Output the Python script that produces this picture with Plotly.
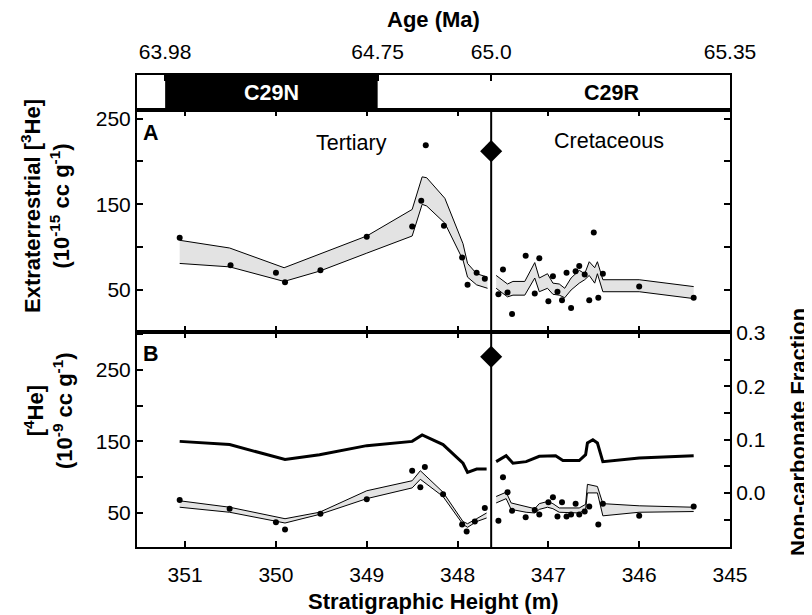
import plotly.graph_objects as go

# ---------------- data ----------------
height_ticks = [351, 350, 349, 348, 347, 346, 345]
age_labels = ["63.98", "64.75", "65.0", "65.35"]
age_tick_height = [351.22, 348.88, 347.63, 345.0]
chron_names = ["C29N", "C29R"]
chron_label_height = [350.05, 346.31]
c29n_start, c29n_end = 351.22, 348.88
kt_height = 347.63
kt_he3 = 212
kt_he4 = 268

# Panel A: extraterrestrial 3He (10^-15 cc/g)
hA_x = [351.06, 350.50, 350.00, 349.90, 349.51, 349.00, 348.50, 348.40, 348.35, 348.15,
        347.95, 347.89, 347.79, 347.70, 347.55, 347.50, 347.45, 347.40, 347.25, 347.15,
        347.10, 347.00, 346.95, 346.90, 346.85, 346.80, 346.75, 346.70, 346.66, 346.60,
        346.55, 346.50, 346.45, 346.40, 346.00, 345.40]
hA_y = [111, 79, 70, 59, 73, 112, 124, 154, 219, 125,
        88, 56, 70, 63, 45, 74, 47, 22, 90, 46,
        87, 37, 66, 48, 38, 70, 29, 72, 78, 68,
        38, 117, 41, 69, 54, 41]

bandA_left_x = [351.06, 350.51, 349.91, 349.52, 349.00, 348.50, 348.39, 348.34, 348.14, 347.94, 347.89, 347.79, 347.67]
bandA_left_hi = [108, 99, 76, 92, 113, 144, 182, 181, 157, 104, 81, 69, 65]
bandA_left_lo = [81, 77, 60, 72, 93, 113, 150, 148, 128, 85, 65, 56, 52]

bandA_right_x = [347.575, 347.45, 347.39, 347.26, 347.15, 347.10, 347.01, 346.95, 346.88, 346.82,
                 346.75, 346.66, 346.60, 346.55, 346.49, 346.46, 346.40, 346.00, 345.40]
bandA_right_hi = [67, 57, 60, 60, 82, 64, 69, 58, 57, 52, 64, 73, 69, 83, 76, 83, 62, 62, 54]
bandA_right_lo = [52, 42, 44, 44, 64, 48, 52, 45, 44, 41, 50, 58, 62, 67, 58, 69, 48, 48, 40]

# Panel B: 4He (10^-9 cc/g)
hB_x = [351.06, 350.51, 350.00, 349.90, 349.51, 349.00, 348.50, 348.41, 348.36, 348.16,
        347.95, 347.90, 347.81, 347.70, 347.55, 347.50, 347.45, 347.40, 347.25, 347.15,
        347.10, 347.00, 346.95, 346.90, 346.85, 346.80, 346.75, 346.70, 346.66, 346.60,
        346.55, 346.45, 346.40, 346.00, 345.40]
hB_y = [68, 56, 37, 27, 49, 69, 109, 86, 114, 76,
        34, 24, 38, 57, 39, 100, 79, 53, 44, 54,
        48, 65, 72, 45, 65, 45, 48, 63, 48, 52,
        59, 34, 63, 46, 59]

bandB_left_x = [351.06, 350.51, 349.90, 349.52, 349.00, 348.50, 348.41, 348.16, 347.94, 347.89, 347.79, 347.68]
bandB_left_hi = [67, 58, 42, 51, 81, 95, 109, 79, 38, 35, 42, 50]
bandB_left_lo = [58, 51, 36, 48, 70, 85, 97, 73, 34, 30, 38, 43]

bandB_right_x = [347.575, 347.465, 347.41, 347.245, 347.15, 347.10, 347.01, 346.95, 346.88, 346.66,
                 346.59, 346.57, 346.46, 346.40, 346.00, 345.40]
bandB_right_hi = [73, 79, 64, 59, 56, 63, 66, 63, 57, 57, 62, 90, 87, 63, 60, 58]
bandB_right_lo = [64, 70, 55, 51, 50, 55, 58, 56, 51, 50, 55, 78, 78, 46, 51, 52]

# Non-carbonate fraction
ncf_left_x = [351.06, 350.51, 349.90, 349.52, 349.00, 348.50, 348.39, 348.16, 347.94, 347.89, 347.79, 347.68]
ncf_left = [0.097, 0.091, 0.063, 0.072, 0.089, 0.097, 0.109, 0.091, 0.056, 0.039, 0.045, 0.045]
ncf_right_x = [347.575, 347.465, 347.39, 347.245, 347.10, 346.92, 346.84, 346.66, 346.59, 346.57,
               346.51, 346.46, 346.40, 346.00, 345.40]
ncf_right = [0.059, 0.070, 0.056, 0.059, 0.069, 0.070, 0.061, 0.061, 0.072, 0.094, 0.100, 0.094, 0.059, 0.066, 0.070]

# ---------------- figure ----------------
FONT = "Liberation Sans, Arial, sans-serif"
FS_TICK = 21
FS_TITLE = 22
FS_TEXT = 21.5
fig = go.Figure()


def add_band(x, hi, lo, xa, ya):
    fig.add_trace(go.Scatter(x=x, y=lo, mode="lines", line=dict(color="black", width=1),
                             xaxis=xa, yaxis=ya, showlegend=False, hoverinfo="skip"))
    fig.add_trace(go.Scatter(x=x, y=hi, mode="lines", line=dict(color="black", width=1),
                             fill="tonexty", fillcolor="#e3e3e3",
                             xaxis=xa, yaxis=ya, showlegend=False, hoverinfo="skip"))


add_band(bandA_left_x, bandA_left_hi, bandA_left_lo, "x2", "y2")
add_band(bandA_right_x, bandA_right_hi, bandA_right_lo, "x2", "y2")
add_band(bandB_left_x, bandB_left_hi, bandB_left_lo, "x", "y")
add_band(bandB_right_x, bandB_right_hi, bandB_right_lo, "x", "y")

fig.add_trace(go.Scatter(x=hA_x, y=hA_y, mode="markers", marker=dict(color="black", size=6),
                         xaxis="x2", yaxis="y2", showlegend=False))
fig.add_trace(go.Scatter(x=hB_x, y=hB_y, mode="markers", marker=dict(color="black", size=6),
                         xaxis="x", yaxis="y", showlegend=False))

for xs, ys in ((ncf_left_x, ncf_left), (ncf_right_x, ncf_right)):
    fig.add_trace(go.Scatter(x=xs, y=ys, mode="lines", line=dict(color="black", width=3),
                             xaxis="x", yaxis="y4", showlegend=False))

fig.add_trace(go.Scatter(x=[kt_height], y=[kt_he3], mode="markers",
                         marker=dict(symbol="diamond", color="black", size=17),
                         xaxis="x2", yaxis="y2", showlegend=False))
fig.add_trace(go.Scatter(x=[kt_height], y=[kt_he4], mode="markers",
                         marker=dict(symbol="diamond", color="black", size=17),
                         xaxis="x", yaxis="y", showlegend=False))

B_TOP = 0.4555
A_TOP = 0.9258
xrange = [351.53, 345.0]


def ax(**kw):
    d = dict(showgrid=False, zeroline=False, showline=True, linecolor="black", linewidth=2,
             ticks="inside", tickcolor="black", tickwidth=1.5, ticklen=6,
             tickfont=dict(family=FONT, size=FS_TICK, color="black"))
    d.update(kw)
    return d


fig.update_layout(
    width=804, height=607,
    margin=dict(l=129, r=82, t=67, b=68),
    plot_bgcolor="white", paper_bgcolor="white",
    font=dict(family=FONT, size=FS_TEXT, color="black"),
    xaxis=ax(domain=[0, 1], anchor="y", range=xrange, tickvals=height_ticks,
             mirror="ticks", ticklabelstandoff=8),
    xaxis2=ax(domain=[0, 1], anchor="y2", range=xrange, tickvals=height_ticks,
              showticklabels=False, mirror="ticks", matches="x"),
    xaxis3=ax(domain=[0, 1], anchor="y3", range=xrange, side="top",
              tickvals=age_tick_height, ticktext=age_labels, mirror=True, ticklabelstandoff=6),
    yaxis=ax(domain=[0, B_TOP], anchor="x", range=[2.5, 302.6], tickvals=[50, 150, 250],
             minor=dict(tickvals=[100, 200, 300], ticks="inside", ticklen=6, tickcolor="black"),
             mirror=False),
    yaxis4=ax(overlaying="y", side="right", anchor="x", range=[-0.101, 0.302],
              tickvals=[0, 0.1, 0.2, 0.3], ticktext=["0.0", "0.1", "0.2", "0.3"],
              minor=dict(tickvals=[-0.05, 0.05, 0.15, 0.25], ticks="inside", ticklen=6, tickcolor="black")),
    yaxis2=ax(domain=[B_TOP, A_TOP], anchor="x2", range=[1, 260], tickvals=[50, 150, 250],
              minor=dict(tickvals=[100, 200], ticks="inside", ticklen=6, tickcolor="black"),
              mirror="ticks"),
    yaxis3=dict(domain=[A_TOP, 1], anchor="x3", range=[0, 1], showticklabels=False,
                showgrid=False, zeroline=False, showline=True, linecolor="black", linewidth=2,
                ticks="", mirror=True),
)

# magnetochron bar
fig.add_shape(type="rect", xref="x3", yref="y3", x0=c29n_start, x1=c29n_end, y0=0, y1=1,
              fillcolor="black", line=dict(width=0), layer="below")
fig.add_annotation(x=chron_label_height[0], y=0.5, xref="x3", yref="y3", text="<b>" + chron_names[0] + "</b>",
                   showarrow=False, font=dict(family=FONT, size=FS_TEXT, color="white"))
fig.add_annotation(x=chron_label_height[1], y=0.5, xref="x3", yref="y3", text="<b>" + chron_names[1] + "</b>",
                   showarrow=False, font=dict(family=FONT, size=FS_TEXT, color="black"))

# K-T boundary line
fig.add_shape(type="line", xref="x", yref="paper", x0=kt_height, x1=kt_height, y0=0, y1=A_TOP,
              line=dict(color="black", width=2))


def note(x, y, text, xref="paper", yref="paper", size=FS_TEXT, angle=0):
    fig.add_annotation(x=x, y=y, xref=xref, yref=yref, text=text, showarrow=False,
                       xanchor="center", yanchor="middle", textangle=angle,
                       font=dict(family=FONT, size=size, color="black"))


# panel texts
note(351.38, 233, "<b>A</b>", "x2", "y2")
note(351.38, 272, "<b>B</b>", "x", "y")
note(349.17, 222, "Tertiary", "x2", "y2")
note(346.33, 224, "Cretaceous", "x2", "y2")

# axis titles (plot area spans window px x 137..730, y 75..547)
note(0.5, (547 - 20) / 472, "<b>Age (Ma)</b>", size=FS_TITLE)
note(0.5, (547 - 601) / 472, "<b>Stratigraphic Height (m)</b>", size=FS_TITLE)
note((45 - 137) / 593, (547 - 206) / 472,
     "<b>Extraterrestrial [<sup>3</sup>He]<br>(10<sup>-15</sup> cc g<sup>-1</sup>)</b>", size=FS_TITLE, angle=-90)
note((48 - 137) / 593, (547 - 411) / 472,
     "<b>[<sup>4</sup>He]<br>(10<sup>-9</sup> cc g<sup>-1</sup>)</b>", size=FS_TITLE, angle=-90)
note((798 - 137) / 593, (547 - 432) / 472, "<b>Non-carbonate Fraction</b>", size=FS_TITLE, angle=-90)

fig.write_html("out.html")
